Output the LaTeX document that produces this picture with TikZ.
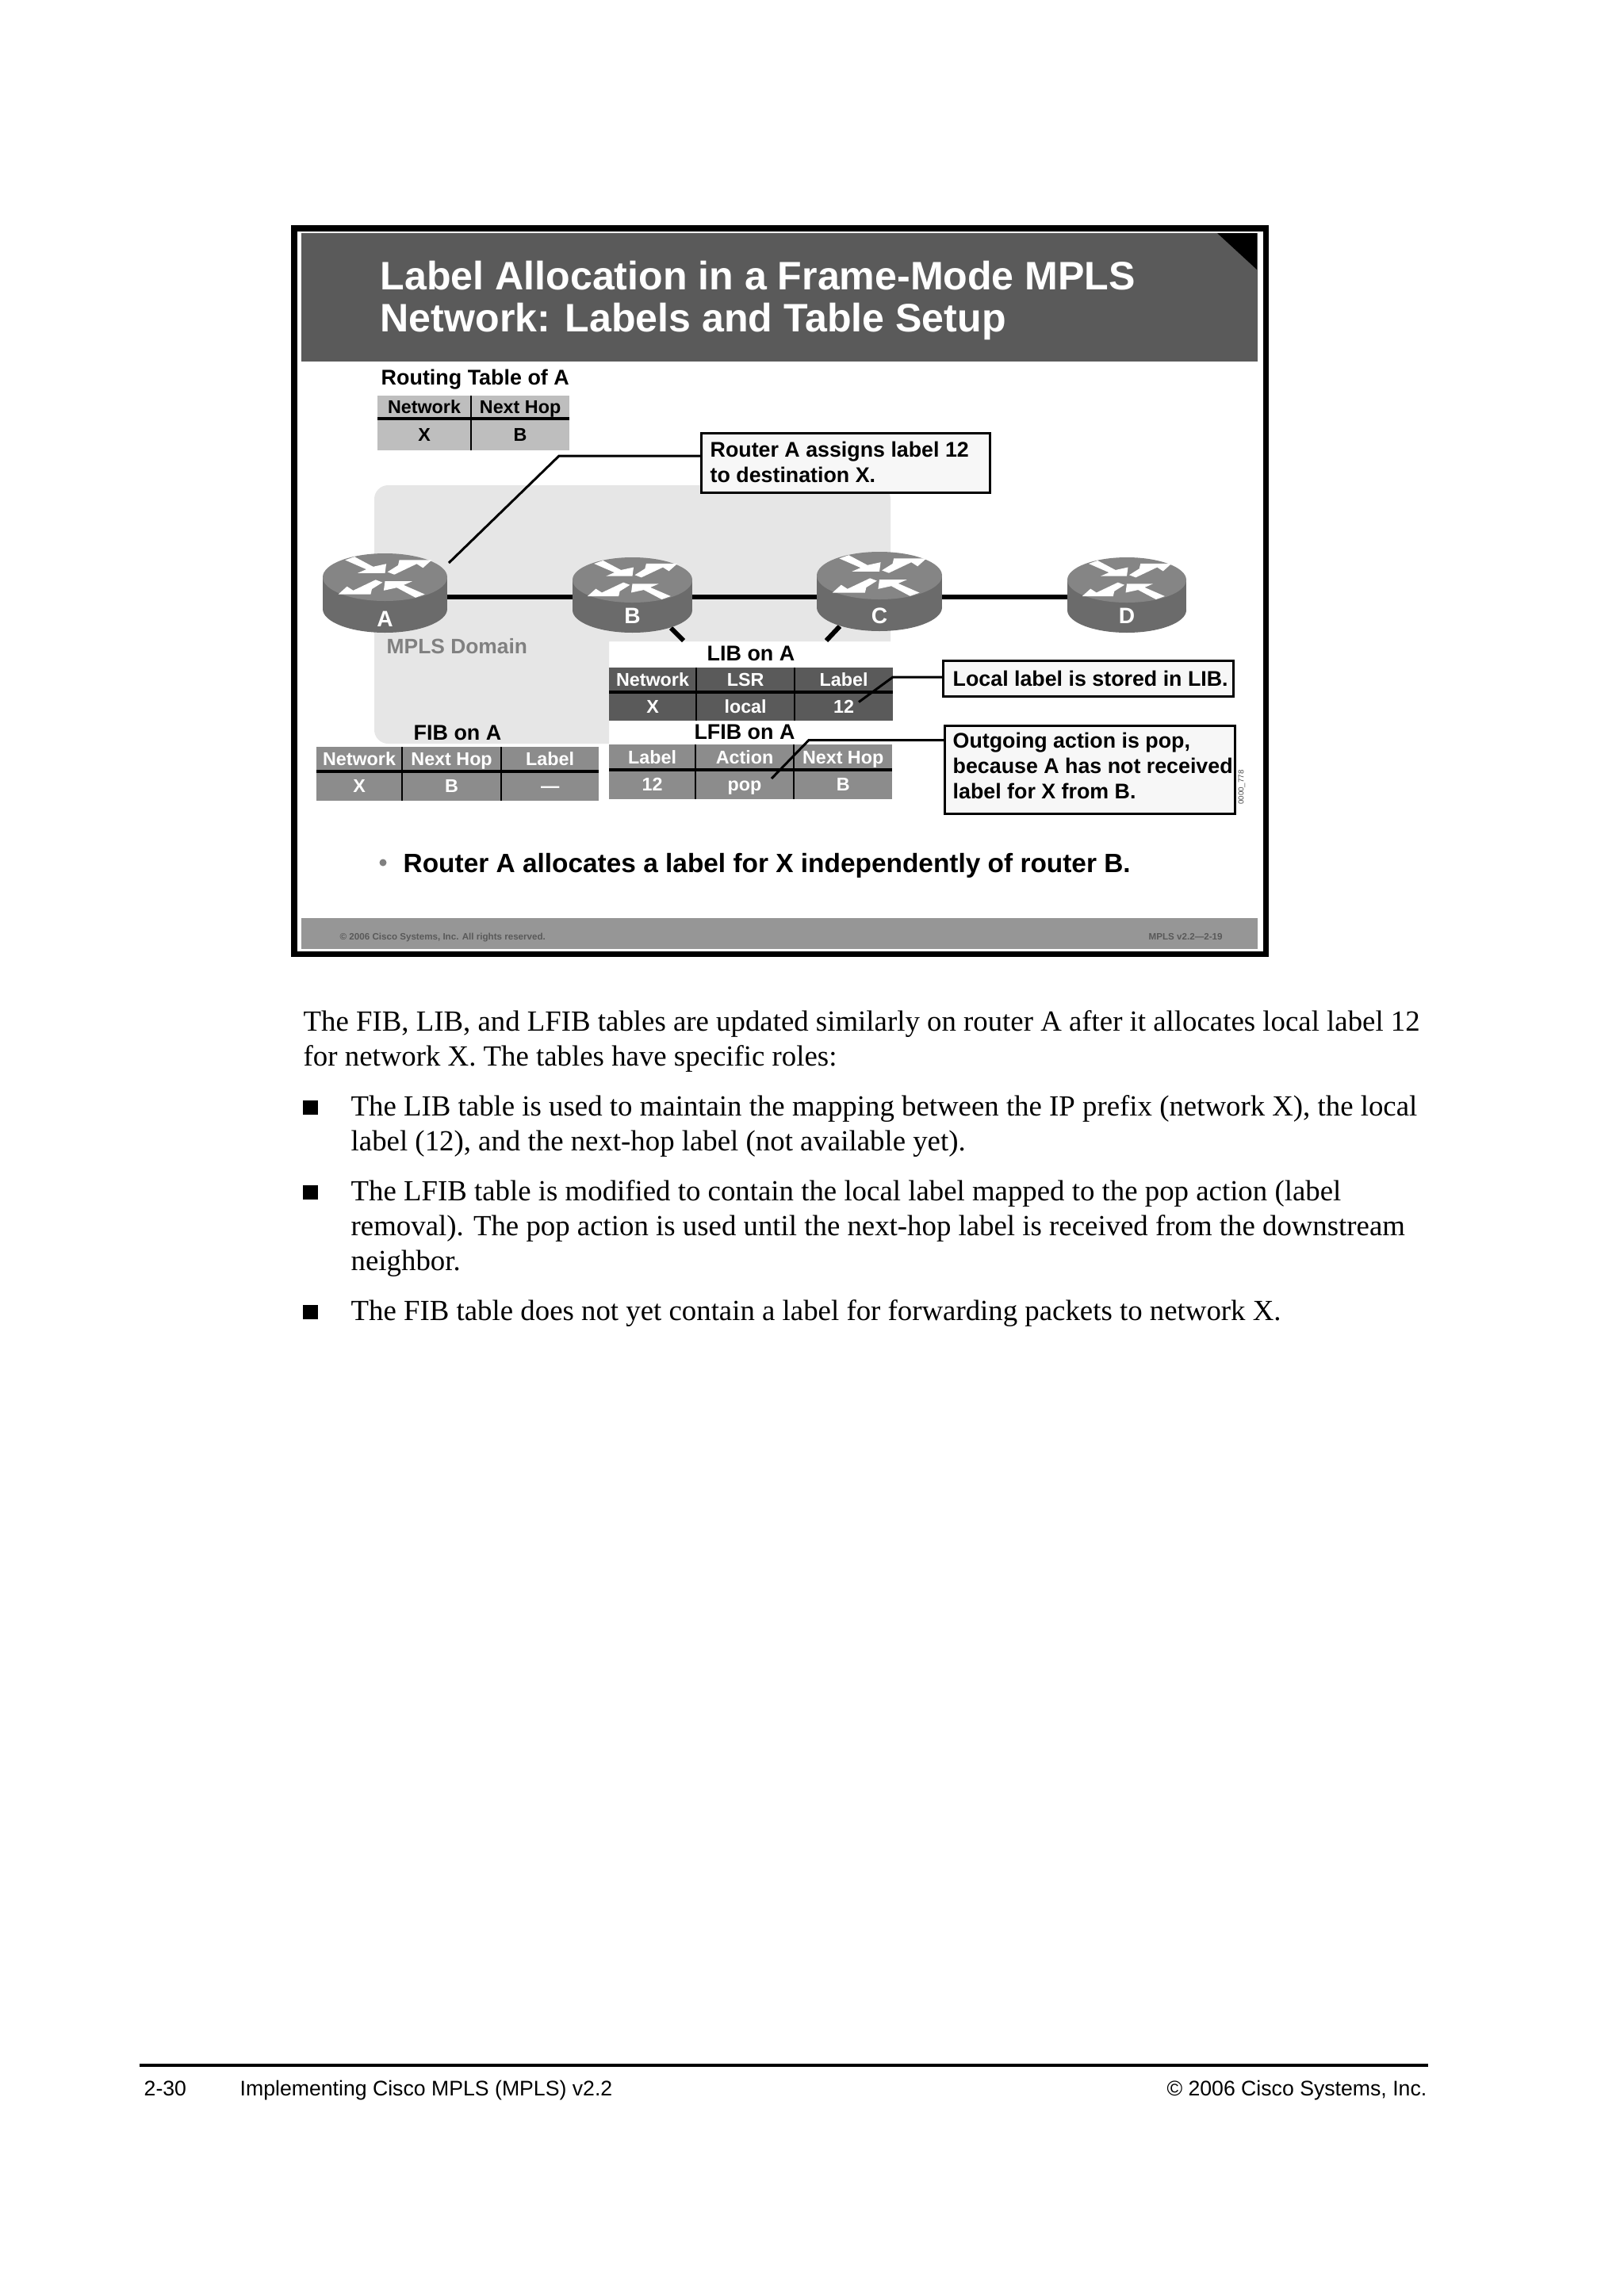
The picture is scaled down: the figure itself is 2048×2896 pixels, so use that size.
\documentclass[tikz,border=0pt]{standalone}
\usepackage{fontspec}
\setmainfont{Liberation Sans}
\newfontfamily\timesfont{Liberation Serif}
\usetikzlibrary{positioning}
\definecolor{headgray}{RGB}{90,90,90}
\definecolor{footgray}{RGB}{150,150,150}
\definecolor{domaingray}{RGB}{230,230,230}
\definecolor{rtgray}{RGB}{190,190,190}
\definecolor{midgray}{RGB}{140,140,140}
\definecolor{rtrtop}{RGB}{133,133,133}
\definecolor{rtrside}{RGB}{107,107,107}

% name, centre x, top y, width, height, letter, letter y
\newcommand{\router}[7]{%
  \begin{scope}[shift={({#2},{#3+0.3*#5})},xscale=#4/2,yscale=0.3*#5]
    \fill[rtrside] (-1,0) rectangle (1,1.333);
    \fill[rtrside] (0,1.333) ellipse [x radius=1,y radius=1];
    \fill[rtrtop] (0,0) ellipse [x radius=1,y radius=1];
    \foreach \s in {1,-1} {
      \fill[white,xscale=\s,yscale=\s] (-0.64,-0.72) -- (-0.49,-0.86) -- (-0.19,-0.44)
        -- (0.02,-0.56) -- (0,-0.17) -- (-0.44,-0.17) -- (-0.3,-0.33) -- cycle;
      \fill[white,xscale=\s,yscale=\s] (0.04,-0.22) -- (0.21,-0.5) -- (0.23,-0.72)
        -- (0.75,-0.72) -- (0.61,-0.39) -- (0.51,-0.56) -- (0.15,-0.11) -- cycle;
    }
  \end{scope}
  \node[minimum width=#4*0.01cm,minimum height=0.1cm,inner sep=0pt,outer sep=0pt] (#1) at (#2,753) {};
  \node[rtrname] (#1name) at (#2,#7) {#6};
}

\begin{document}
\begin{tikzpicture}[x=0.01cm,y=-0.01cm,
  slidetitle/.style={anchor=base west,align=left,text=white,inner sep=0pt,
    font=\fontsize{14.25}{15.08}\selectfont\bfseries},
  caption/.style={anchor=base west,inner sep=0pt,font=\fontsize{7.65}{9}\selectfont\bfseries},
  cell/.style={inner sep=0pt,outer sep=0pt,text height=0.166cm,text depth=0pt,
    font=\fontsize{6.63}{8}\selectfont\bfseries},
  rtcell/.style={cell,fill=rtgray},
  libcell/.style={cell,fill=headgray,text=white},
  fibcell/.style={cell,fill=midgray,text=white},
  tblrule/.style={line width=0.75pt},
  tblhead/.style={line width=1pt},
  callout/.style={draw,line width=0.85pt,fill=white!97!black,anchor=north west,inner sep=0pt,outer sep=0pt},
  calltext/.style={anchor=base west,align=left,inner sep=0pt},
  leader/.style={line width=0.85pt},
  link/.style={line width=1.7pt},
  rtrname/.style={text=white,inner sep=0pt,font=\fontsize{8}{8}\selectfont\bfseries},
  bodytext/.style={anchor=base west,align=left,inner sep=0pt,
    font=\timesfont\fontsize{10.47}{12.38}\selectfont},
  sqbullet/.style={fill=black,minimum size=0.18cm,inner sep=0pt},
  pagefoot/.style={anchor=base west,inner sep=0pt,font=\fontsize{7.58}{9}\selectfont},
  smallprint/.style={anchor=base west,inner sep=0pt,text=black!65,
    font=\fontsize{3.3}{4}\selectfont\bfseries}]
  \useasboundingbox[fill=white] (0,0) rectangle (2048,2896);

  % slide
  \node[draw,line width=2pt,minimum width=12.25cm,minimum height=9.145cm,inner sep=0pt,outer sep=0pt,
    anchor=north west] (frame) at (371,288) {};
  \node[fill=headgray,minimum width=12.05cm,minimum height=1.62cm,inner sep=0pt,outer sep=0pt,
    anchor=north west] (head) at (380,294) {};
  \fill[black] (1535,294) -- (1585,294) -- (1585,340) -- cycle;
  \node[slidetitle] (title) at (479,418.5) {Label Allocation in a Frame-Mode MPLS\\Network: Labels and Table Setup};
  \node[fill=footgray,minimum width=12.05cm,minimum height=0.39cm,inner sep=0pt,outer sep=0pt,
    anchor=north west] (foot) at (380,1158) {};
  \node[smallprint] (copy) at (428,1185) {© 2006 Cisco Systems, Inc. All rights reserved.};
  \node[smallprint] (ver) at (1448,1185) {MPLS v2.2—2-19};

  % domain
  \fill[domaingray] (1123,612) -- (1123,809) -- (768,809) -- (768,938)
    [rounded corners=5pt] -- (472,938) -- (472,612) -- cycle;
  \node[anchor=base west,inner sep=0pt,text=black!50,font=\fontsize{7.5}{9}\selectfont\bfseries]
    (domain) at (487,824) {MPLS Domain};

  % routers
  \coordinate (bfoot) at (846,792);
  \coordinate (bend) at (862,808);
  \coordinate (cfoot) at (1059,790);
  \coordinate (cend) at (1042,808);
  \draw[link] (bfoot) -- (bend);
  \draw[link] (cfoot) -- (cend);
  \router{a}{485.5}{698}{157}{100}{A}{781}
  \router{b}{797.5}{703}{151}{95}{B}{777}
  \router{c}{1109}{696}{158}{100}{C}{777}
  \router{d}{1421}{703}{150}{95}{D}{777}
  \draw[link] (a.east) -- (b.west);
  \draw[link] (b.east) -- (c.west);
  \draw[link] (c.east) -- (d.west);

  % routing table
  \node[caption] (rtcap) at (480,485) {Routing Table of A};
  \node[rtcell,minimum width=1.18cm,minimum height=0.29cm,anchor=north west] (rt1) at (476,499) {Network};
  \node[rtcell,minimum width=1.24cm,minimum height=0.29cm,right=0pt of rt1] (rt2) {Next Hop};
  \node[rtcell,minimum width=1.18cm,minimum height=0.4cm,below=0pt of rt1] (rt3) {X};
  \node[rtcell,minimum width=1.24cm,minimum height=0.4cm,below=0pt of rt2] (rt4) {B};
  \draw[tblhead] (rt1.south west) -- (rt2.south east);
  \draw[tblrule] (rt1.north east) -- (rt3.south east);

  % LIB
  \node[caption,anchor=base] (libcap) at (947,833) {LIB on A};
  \node[libcell,minimum width=1.1cm,minimum height=0.31cm,anchor=north west] (lib1) at (768,842) {Network};
  \node[libcell,minimum width=1.24cm,minimum height=0.31cm,right=0pt of lib1] (lib2) {LSR};
  \node[libcell,minimum width=1.24cm,minimum height=0.31cm,right=0pt of lib2] (lib3) {Label};
  \node[libcell,minimum width=1.1cm,minimum height=0.36cm,below=0pt of lib1] (lib4) {X};
  \node[libcell,minimum width=1.24cm,minimum height=0.36cm,below=0pt of lib2] (lib5) {local};
  \node[libcell,minimum width=1.24cm,minimum height=0.36cm,below=0pt of lib3] (lib6) {12};
  \draw[tblhead] (lib1.south west) -- (lib3.south east);
  \draw[tblrule] (lib1.north east) -- (lib4.south east);
  \draw[tblrule] (lib2.north east) -- (lib5.south east);

  % LFIB
  \node[caption,anchor=base] (lfibcap) at (939,932) {LFIB on A};
  \node[fibcell,minimum width=1.09cm,minimum height=0.32cm,anchor=north west] (lfib1) at (768,939) {Label};
  \node[fibcell,minimum width=1.24cm,minimum height=0.32cm,right=0pt of lfib1] (lfib2) {Action};
  \node[fibcell,minimum width=1.24cm,minimum height=0.32cm,right=0pt of lfib2] (lfib3) {Next Hop};
  \node[fibcell,minimum width=1.09cm,minimum height=0.37cm,below=0pt of lfib1] (lfib4) {12};
  \node[fibcell,minimum width=1.24cm,minimum height=0.37cm,below=0pt of lfib2] (lfib5) {pop};
  \node[fibcell,minimum width=1.24cm,minimum height=0.37cm,below=0pt of lfib3] (lfib6) {B};
  \draw[tblhead] (lfib1.south west) -- (lfib3.south east);
  \draw[tblrule] (lfib1.north east) -- (lfib4.south east);
  \draw[tblrule] (lfib2.north east) -- (lfib5.south east);

  % FIB
  \node[caption,anchor=base] (fibcap) at (577,933) {FIB on A};
  \node[fibcell,minimum width=1.08cm,minimum height=0.31cm,anchor=north west] (fib1) at (399,942) {Network};
  \node[fibcell,minimum width=1.25cm,minimum height=0.31cm,right=0pt of fib1] (fib2) {Next Hop};
  \node[fibcell,minimum width=1.23cm,minimum height=0.31cm,right=0pt of fib2] (fib3) {Label};
  \node[fibcell,minimum width=1.08cm,minimum height=0.37cm,below=0pt of fib1] (fib4) {X};
  \node[fibcell,minimum width=1.25cm,minimum height=0.37cm,below=0pt of fib2] (fib5) {B};
  \node[fibcell,minimum width=1.23cm,minimum height=0.37cm,below=0pt of fib3] (fib6) {—};
  \draw[tblhead] (fib1.south west) -- (fib3.south east);
  \draw[tblrule] (fib1.north east) -- (fib4.south east);
  \draw[tblrule] (fib2.north east) -- (fib5.south east);

  % callouts
  \node[callout,minimum width=3.64cm,minimum height=0.75cm] (assign) at (884,546) {};
  \node[calltext,font=\fontsize{7.62}{9.1}\selectfont\bfseries] (assigntxt) at (895,608) {Router A assigns label 12\\to destination X.};
  \node[callout,minimum width=3.66cm,minimum height=0.45cm] (stored) at (1189,833) {};
  \node[calltext,font=\fontsize{7.62}{9.1}\selectfont\bfseries] (storedtxt) at (1201,865) {Local label is stored in LIB.};
  \node[callout,minimum width=3.66cm,minimum height=1.105cm] (popbox) at (1191,915.5) {};
  \node[calltext,font=\fontsize{7.62}{8.96}\selectfont\bfseries] (poptxt) at (1201,1007) {Outgoing action is pop,\\because A has not received\\label for X from B.};
  \node[rotate=90,inner sep=0pt,text=black!70,font=\fontsize{2.75}{3}\selectfont] (figid) at (1566,993) {0000\_778};

  \coordinate (kneea) at (705,575);
  \coordinate (tipa) at (566,710);
  \draw[leader] (assign.west |- kneea) -- (kneea) -- (tipa);
  \coordinate (kneeb) at (1126,854);
  \coordinate (tipb) at (1083,885.5);
  \draw[leader] (stored.west |- kneeb) -- (kneeb) -- (tipb);
  \coordinate (kneec) at (1020,933.5);
  \coordinate (tipc) at (973,982);
  \draw[leader] (popbox.west |- kneec) -- (kneec) -- (tipc);

  % slide bullet
  \node[circle,fill=black!50,minimum size=0.09cm,inner sep=0pt] (dot) at (483,1088) {};
  \node[anchor=base west,inner sep=0pt,font=\fontsize{9.5}{11}\selectfont\bfseries] (point) at (508,1100)
    {Router A allocates a label for X independently of router B.};

  % page text
  \node[bodytext] (intro) at (382,1344) {The FIB, LIB, and LFIB tables are updated similarly on router A after it allocates local label 12\\for network X. The tables have specific roles:};
  \node[sqbullet] (sq1) at (391.5,1397) {};
  \node[bodytext] (item1) at (442,1451) {The LIB table is used to maintain the mapping between the IP prefix (network X), the local\\label (12), and the next-hop label (not available yet).};
  \node[sqbullet] (sq2) at (391.5,1504) {};
  \node[bodytext] (item2) at (442,1602) {The LFIB table is modified to contain the local label mapped to the pop action (label\\removal). The pop action is used until the next-hop label is received from the downstream\\neighbor.};
  \node[sqbullet] (sq3) at (391.5,1655) {};
  \node[bodytext] (item3) at (442,1665) {The FIB table does not yet contain a label for forwarding packets to network X.};

  % page footer
  \draw[line width=0.9pt] (176,2605) -- (1801,2605);
  \node[pagefoot] (pagenum) at (181,2643) {2-30};
  \node[pagefoot] (book) at (302,2643) {Implementing Cisco MPLS (MPLS) v2.2};
  \node[pagefoot,anchor=base east] (owner) at (1800,2643) {© 2006 Cisco Systems, Inc.};
\end{tikzpicture}
\end{document}
